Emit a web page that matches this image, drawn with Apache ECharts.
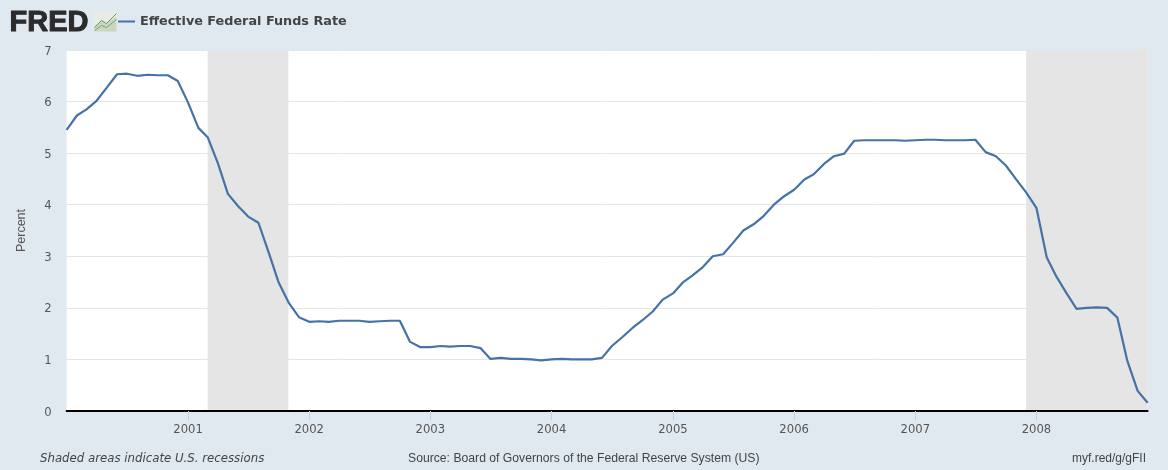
<!DOCTYPE html>
<html><head><meta charset="utf-8">
<style>html,body{margin:0;padding:0;background:#e1e9f0}#c{width:1168px;height:470px}</style>
<script src="https://cdn.jsdelivr.net/npm/echarts@6/dist/echarts.min.js"></script>
</head><body><div id="c"></div>
<script>
const seriesName = 'Effective Federal Funds Rate';
const startYear = 2000;
const rate2000 = [5.45,5.73,5.85,6.02,6.27,6.53,6.54,6.50,6.52,6.51,6.51,6.40];
const rate2001 = [5.98,5.49,5.31,4.80,4.21,3.97,3.77,3.65,3.07,2.49,2.09,1.82];
const rate2002 = [1.73,1.74,1.73,1.75,1.75,1.75,1.73,1.74,1.75,1.75,1.34,1.24];
const rate2003 = [1.24,1.26,1.25,1.26,1.26,1.22,1.01,1.03,1.01,1.01,1.00,0.98];
const rate2004 = [1.00,1.01,1.00,1.00,1.00,1.03,1.26,1.43,1.61,1.76,1.93,2.16];
const rate2005 = [2.28,2.50,2.63,2.79,3.00,3.04,3.26,3.50,3.62,3.78,4.00,4.16];
const rate2006 = [4.29,4.49,4.59,4.79,4.94,4.99,5.24,5.25,5.25,5.25,5.25,5.24];
const rate2007 = [5.25,5.26,5.26,5.25,5.25,5.25,5.26,5.02,4.94,4.76,4.49,4.24];
const rate2008 = [3.94,2.98,2.61,2.28,1.98,2.00,2.01,2.00,1.81,0.97,0.39,0.16];
const yearTicks = ['2001','2002','2003','2004','2005','2006','2007','2008'];
const recessions = [['2001-03-01','2001-10-30'],['2007-12-01','2008-12-01']];

const allYears = [rate2000,rate2001,rate2002,rate2003,rate2004,rate2005,rate2006,rate2007,rate2008];
const points = [];
allYears.forEach((vals,y)=>vals.forEach((v,m)=>points.push([Date.UTC(startYear+y,m,1),v])));
const utc = s => { const p=s.split('-').map(Number); return Date.UTC(p[0],p[1]-1,p[2]); };
const tickTimes = yearTicks.map(y=>Date.UTC(+y,0,1));

const chart = echarts.init(document.getElementById('c'),null,{renderer:'canvas'});
chart.setOption({
  animation:false,
  backgroundColor:'#e1e9f0',
  useUTC:true,
  grid:{left:66.6,right:20.4,top:50,bottom:59,backgroundColor:'#ffffff',show:true,borderWidth:0},
  legend:{left:113,top:10,icon:'rect',itemWidth:17,itemHeight:2,
    textStyle:{fontFamily:'DejaVu Sans',fontWeight:'bold',fontSize:12.8,color:'#444'},
    data:[seriesName]},
  xAxis:{type:'time',min:points[0][0],max:points[points.length-1][0],z:10,
    minInterval:300*864e5,maxInterval:400*864e5,
    axisLine:{show:true,onZero:false,lineStyle:{color:'#000',width:2}},
    axisTick:{show:true,length:9,lineStyle:{color:'#c0d0e0',width:1},customValues:tickTimes},
    splitLine:{show:false},
    axisLabel:{color:'#555',fontFamily:'DejaVu Sans',fontSize:11.6,margin:13,showMinLabel:false,showMaxLabel:false,
      formatter:v=>{const d=new Date(v);const y=String(d.getUTCFullYear());return (d.getUTCMonth()===0&&yearTicks.includes(y))?y:'';}}},
  yAxis:{type:'value',min:0,max:7,interval:1,name:'Percent',nameLocation:'middle',nameGap:39,
    nameTextStyle:{color:'#555',fontFamily:'Liberation Sans',fontSize:12.5},
    axisLine:{show:false},axisTick:{show:false},
    splitLine:{lineStyle:{color:'#e6e6e6',width:1}},
    axisLabel:{color:'#555',fontFamily:'DejaVu Sans',fontSize:11.6,margin:15,verticalAlign:'top',lineHeight:3}},
  series:[{name:seriesName,type:'line',data:points,showSymbol:false,smooth:false,
    lineStyle:{color:'#4572a7',width:2.2},itemStyle:{color:'#4572a7'},
    markArea:{silent:true,itemStyle:{color:'#e5e5e5',opacity:1},
      data:recessions.map(r=>[{xAxis:utc(r[0])},{xAxis:utc(r[1])}])},z:5}],
  graphic:[
    {type:'text',left:9,top:8,style:{text:'FRED',fontFamily:'Liberation Sans',fontWeight:'bold',fontSize:29,fill:'#2b2b2b',stroke:'#2b2b2b',lineWidth:1}},
    {type:'group',left:92,top:11,children:[
      {type:'rect',shape:{x:0,y:0,width:22,height:20},style:{fill:'#e8ece4'}},
      {type:'polygon',shape:{points:[[0,20],[0,15],[7,9],[12,12],[22,5],[22,20]]},style:{fill:'#c9d6c0'}},
      {type:'polyline',shape:{points:[[0,16],[7,9],[12,12],[22,2]]},style:{stroke:'#6f8f6a',fill:null,lineWidth:1}},
      {type:'polyline',shape:{points:[[0,19],[7,14],[12,16],[22,8]]},style:{stroke:'#7f9f7a',fill:null,lineWidth:1}}
    ]},
    {type:'text',left:40,top:453,style:{text:'Shaded areas indicate U.S. recessions',fontFamily:'DejaVu Sans',fontStyle:'italic',fontSize:11.75,fill:'#444'}},
    {type:'text',left:408,top:453,style:{text:'Source: Board of Governors of the Federal Reserve System (US)',fontFamily:'Liberation Sans',fontSize:12.2,fill:'#444'}},
    {type:'text',right:22,top:453,style:{text:'myf.red/g/gFII',fontFamily:'Liberation Sans',fontSize:12,fill:'#444'}}
  ]
});
</script></body></html>
